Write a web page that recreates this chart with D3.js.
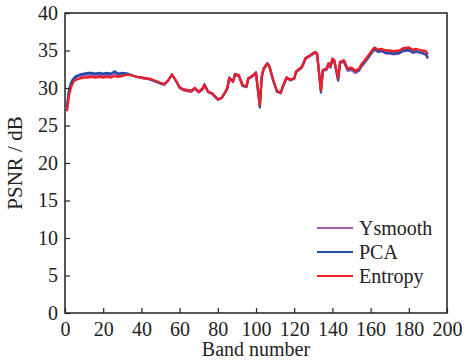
<!DOCTYPE html>
<html>
<head>
<meta charset="utf-8">
<script src="https://cdn.jsdelivr.net/npm/d3@7"></script>
<style>
  body { margin: 0; background: #fff; }
  text { font-family: "Liberation Serif", "Times New Roman", serif; fill: #222; }
</style>
</head>
<body>
<svg id="chart"></svg>
<script>
// Chart size and margins
const width = 469;
const height = 361;
const margin = { top: 13, right: 22, bottom: 48, left: 65 };

// Data
const bands = [1,2,3,4,5,6,8,10,12,14,16,18,20,22,24,26,28,30,33,36,39,42,45,48,50,52,54,56,58,60,62,64,66,68,70,72,73,75,77,80,82,84,85,86,88,89,91,93,95,96,98,100,102,103,104,106,107,109,111,113,114,116,118,120,121,124,126,128,131,132,134,135,137,138,139,140,141,143,144,146,148,150,152,154,155,157,159,161,162,164,166,168,170,172,175,177,180,182,184,187,189,190];

const entropy = [26.9,28.8,30.0,30.6,31.0,31.1,31.3,31.4,31.4,31.5,31.4,31.5,31.4,31.5,31.4,31.6,31.5,31.6,31.8,31.6,31.4,31.3,31.2,30.9,30.7,30.5,31.0,31.8,31.0,30.1,29.8,29.7,29.6,30.0,29.5,29.9,30.4,29.5,29.3,28.5,28.7,29.5,30.0,31.3,30.9,31.8,31.7,30.4,30.2,31.3,31.6,32.0,27.7,31.5,32.6,33.3,32.9,31.1,29.6,29.4,30.2,31.4,31.1,31.3,32.2,32.8,34.0,34.3,34.8,34.5,29.7,32.4,32.6,33.3,32.9,33.9,33.7,31.3,33.5,33.7,32.6,32.7,32.3,32.6,33.1,33.7,34.4,35.1,35.4,35.1,35.2,35.0,35.0,34.9,35.0,35.3,35.4,35.1,35.2,35.0,34.9,34.5];

const pca = [27.5,29.6,30.6,31.1,31.4,31.6,31.8,31.9,32.0,32.0,31.9,32.0,31.9,32.0,31.9,32.2,31.9,32.0,31.9,31.6,31.4,31.3,31.1,30.8,30.6,30.5,31.0,31.8,31.0,30.1,29.8,29.7,29.6,30.0,29.5,29.9,30.5,29.5,29.3,28.5,28.7,29.5,30.0,31.4,30.9,31.9,31.7,30.3,30.2,31.3,31.6,32.1,27.4,31.5,32.6,33.3,32.9,31.0,29.5,29.4,30.2,31.4,31.1,31.3,32.2,32.8,34.0,34.3,34.8,34.6,29.4,32.4,32.6,33.3,32.9,33.9,33.6,31.0,33.4,33.6,32.5,32.6,32.2,32.4,32.9,33.5,34.2,34.9,35.2,34.9,35.0,34.7,34.7,34.6,34.7,35.0,35.1,34.8,34.9,34.7,34.5,34.0];

const ysmooth = [27.2,29.3,30.3,30.9,31.2,31.4,31.6,31.7,31.7,31.8,31.7,31.8,31.7,31.8,31.7,31.9,31.7,31.8,31.8,31.6,31.4,31.3,31.1,30.8,30.6,30.4,31.0,31.8,31.0,30.0,29.7,29.6,29.5,29.9,29.4,29.8,30.3,29.4,29.2,28.4,28.6,29.4,29.9,31.2,30.8,31.7,31.6,30.3,30.1,31.2,31.5,31.9,27.6,31.4,32.5,33.2,32.8,31.0,29.5,29.3,30.1,31.3,31.0,31.2,32.1,32.7,33.9,34.2,34.7,34.4,29.6,32.3,32.4,33.1,32.7,33.7,33.5,31.1,33.3,33.5,32.3,32.4,32.0,32.3,32.8,33.4,34.1,34.8,35.1,34.8,34.9,34.6,34.6,34.5,34.6,34.9,35.0,34.7,34.8,34.6,34.4,33.9];

const xTicks = [0,20,40,60,80,100,120,140,160,180,200];
const yTicks = [0,5,10,15,20,25,30,35,40];

const series = [
    { name: "Ysmooth", values: ysmooth, color: "#a35cb8" },
    { name: "PCA", values: pca, color: "#1f4ea6" },
    { name: "Entropy", values: entropy, color: "#ee1f26" }
];

const svg = d3.select("#chart")
    .attr("width", width)
    .attr("height", height);

// Scales
const x = d3.scaleLinear()
    .domain([0, 200])
    .range([margin.left, width - margin.right]);

const y = d3.scaleLinear()
    .domain([0, 40])
    .range([height - margin.bottom, margin.top]);

// Lines
const line = d3.line()
    .x((d, i) => x(bands[i]))
    .y(d => y(d));

svg.selectAll("path.series")
    .data(series)
    .join("path")
    .attr("class", "series")
    .attr("fill", "none")
    .attr("stroke", d => d.color)
    .attr("stroke-width", 2.3)
    .attr("stroke-linejoin", "round")
    .attr("d", d => line(d.values));

// Axes with inward ticks
const xAxis = svg.append("g")
    .attr("transform", `translate(0,${height - margin.bottom})`)
    .call(d3.axisBottom(x).tickValues(xTicks).tickSizeInner(-5).tickSizeOuter(0).tickPadding(9));

const yAxis = svg.append("g")
    .attr("transform", `translate(${margin.left},0)`)
    .call(d3.axisLeft(y).tickValues(yTicks).tickSizeInner(-5).tickSizeOuter(0).tickPadding(7));

[xAxis, yAxis].forEach(g => {
    g.select(".domain").remove();
    g.selectAll("line").attr("stroke", "#222").attr("stroke-width", 1.2);
    g.selectAll("text")
        .style("font-family", '"Liberation Serif", serif')
        .style("font-size", "20px")
        .attr("fill", "#222");
});

// Frame
svg.append("rect")
    .attr("x", margin.left)
    .attr("y", margin.top)
    .attr("width", width - margin.left - margin.right)
    .attr("height", height - margin.top - margin.bottom)
    .attr("fill", "none")
    .attr("stroke", "#222")
    .attr("stroke-width", 1.5);

// Axis titles
svg.append("text")
    .attr("x", (margin.left + width - margin.right) / 2)
    .attr("y", height - 5)
    .attr("text-anchor", "middle")
    .style("font-size", "20px")
    .text("Band number");

svg.append("text")
    .attr("transform", `translate(22,${(margin.top + height - margin.bottom) / 2}) rotate(-90)`)
    .attr("text-anchor", "middle")
    .style("font-size", "21px")
    .text("PSNR / dB");

// Legend
const legend = svg.append("g")
    .selectAll("g")
    .data(series)
    .join("g")
    .attr("transform", (d, i) => `translate(317,${228 + i * 24})`);

legend.append("line")
    .attr("x1", 0)
    .attr("x2", 36)
    .attr("stroke", d => d.color)
    .attr("stroke-width", 2);

legend.append("text")
    .attr("x", 42)
    .attr("y", 7)
    .style("font-size", "20px")
    .text(d => d.name);
</script>
</body>
</html>
